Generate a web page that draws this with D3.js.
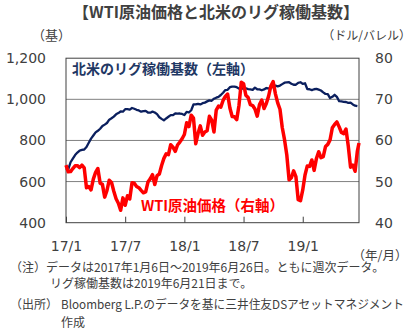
<!DOCTYPE html>
<html><head><meta charset="utf-8">
<script src="https://cdn.jsdelivr.net/npm/d3@7"></script>
<style>
body{margin:0;background:#fff;}
svg{display:block;}
text{font-family:"Noto Sans CJK JP","Noto Sans",sans-serif;}
.num{font-family:"DejaVu Sans",sans-serif;}
</style></head><body>
<svg id="c" width="412" height="330"></svg>
<script>
// ---- data ----
const startDate = "2017-01-06";           // first weekly observation (Friday)
const wtiLastDate = "2019-06-26";         // last WTI observation (Wed)
// North American rig count, weekly (left axis, rigs) 2017-01-06 .. 2019-06-21
const rigCount = [
 665,659,694,712, 729,741,751,754, 756,768,789,809,824, 839,847,857,870, 877,885,901,908,
 916,927,933,941,940, 952,952,950,958, 954,949,946,940, 943,944,936,935,940, 936,928,913,905,
 898,907,915,923, 923,931,930,931,929,
 924,939,936,947, 975,975,978,975, 981,984,990,995,993, 1003,1008,1012,1021, 1032,1045,1046,1059,
 1062,1062,1059,1052,1052, 1052,1054,1050,1048, 1046,1057,1049,1048,1044, 1048,1055,1053,1054,
 1063,1067,1063,1067, 1074,1081,1082,1083,1076, 1071,1071,1080,1083,
 1075,1078,1050,1049, 1045,1049,1051,1047, 1043,1034,1026,1025,1006, 1012,1022,1012,991,
 990,988,987,983,984, 975,969,967
];
// WTI crude oil price, weekly (right axis, USD/bbl) 2017-01-06 .. 2019-06-21, then 2019-06-26
const wtiPrice = [
 53.99,52.37,52.42,53.17, 53.83,53.86,53.40,53.99, 53.33,48.49,48.78,47.97,50.60, 52.24,53.18,49.62,49.33,
 46.22,47.84,50.33,49.80, 47.66,45.83,44.74,43.01,46.04, 44.23,46.54,45.77,49.71, 49.58,48.82,48.51,47.87,
 47.29,47.48,49.89,50.66,51.67, 49.29,51.45,51.84,53.90, 55.64,56.74,56.55,58.95, 58.36,57.36,58.90,59.60,60.42,
 61.44,64.30,63.37,66.14, 65.45,59.20,61.68,63.55, 61.25,62.04,62.34,65.88,64.94, 62.06,67.39,68.38,68.10,
 69.72,70.70,71.28,67.88, 65.81,65.74,65.06,68.58,74.15, 73.80,71.01,70.46,68.69, 68.49,67.63,65.91,68.72,69.80,
 67.75,68.99,70.78,73.25, 74.34,71.34,69.12,67.59, 63.14,60.19,56.46,50.42,50.93, 52.61,51.20,45.59,45.33,
 47.96,51.59,53.80,53.69, 55.26,52.72,55.59,57.26, 55.80,56.07,58.52,59.04,60.14, 63.08,63.89,64.50,63.30,
 61.94,61.66,62.76,58.63,53.50, 54.00,52.51,57.43, 59.38
];
const xTickDates = ["2017-01-06","2017-07-07","2018-01-05","2018-07-06","2019-01-04"];
const xTickLabels = ["17/1","17/7","18/1","18/7","19/1"];
const leftTicks = [400,600,800,1000,1200];
const rightTicks = [40,50,60,70,80];
const gridValues = [600,800,1000];

const title = "【WTI原油価格と北米のリグ稼働基数】";
const leftUnit = "（基）", rightUnit = "（ドル/バレル）", xUnit = "（年/月）";
const rigLabel = "北米のリグ稼働基数（左軸）";
const wtiLabel = "WTI原油価格（右軸）";

// ---- build ----
const parse = d3.utcParse("%Y-%m-%d");
const start = parse(startDate);
const rigDates = rigCount.map((_, i) => d3.utcDay.offset(start, 7 * i));
const wtiDates = wtiPrice.map((_, i) => i < wtiPrice.length - 1 ? d3.utcDay.offset(start, 7 * i) : parse(wtiLastDate));

const L = 66, R = 359, T = 58.2, B = 222.7;
const svg = d3.select("#c");
const x = d3.scaleUtc().domain([start, parse(wtiLastDate)]).range([L, R]);
const yL = d3.scaleLinear().domain([400, 1200]).range([B, T]);
const yR = d3.scaleLinear().domain([40, 80]).range([B, T]);

// title & units
svg.append("text").attr("x", 216).attr("y", 17.5).attr("text-anchor", "middle")
  .attr("font-size", 16).attr("font-weight", "bold").attr("fill", "#404040").text(title);
svg.append("text").attr("x", 51.5).attr("y", 40).attr("text-anchor", "middle")
  .attr("font-size", 13).attr("fill", "#404040").text(leftUnit);
svg.append("text").attr("x", 411).attr("y", 40).attr("text-anchor", "end")
  .attr("font-size", 12).attr("fill", "#404040").text(rightUnit);
svg.append("text").attr("x", 380).attr("y", 259.5).attr("text-anchor", "middle")
  .attr("font-size", 12.5).attr("fill", "#404040").text(xUnit);

// grid
svg.append("g").selectAll("line").data(gridValues).join("line")
  .attr("x1", L).attr("x2", R).attr("y1", d => yL(d)).attr("y2", d => yL(d))
  .attr("stroke", "#808080").attr("stroke-width", 1);

// axes
const gL = svg.append("g").attr("transform", `translate(${L},0)`)
  .call(d3.axisLeft(yL).tickValues(leftTicks).tickSize(0).tickPadding(20).tickFormat(d3.format(",")));
const gR = svg.append("g").attr("transform", `translate(${R},0)`)
  .call(d3.axisRight(yR).tickValues(rightTicks).tickSize(0).tickPadding(16));
const gB = svg.append("g").attr("transform", `translate(0,${B})`)
  .call(d3.axisBottom(x).tickValues(xTickDates.map(parse)).tickSize(-6).tickPadding(18)
    .tickFormat((d, i) => xTickLabels[i]));
[gL, gR, gB].forEach(g => {
  g.select(".domain").remove();
  g.selectAll("text").attr("class", "num").attr("font-size", 14).attr("fill", "#404040");
  g.selectAll("line").attr("stroke", "#404040");
});

// frame
svg.append("rect").attr("x", L).attr("y", T).attr("width", R - L).attr("height", B - T)
  .attr("fill", "none").attr("stroke", "#404040").attr("stroke-width", 1);

// lines
const rigLine = d3.line().x((d, i) => x(rigDates[i])).y(d => yL(d));
const wtiLine = d3.line().x((d, i) => x(wtiDates[i])).y(d => yR(d));
svg.append("path").datum(rigCount).attr("d", rigLine).attr("fill", "none")
  .attr("stroke", "#0B1F5E").attr("stroke-width", 2.3).attr("stroke-linejoin", "round");
svg.append("path").datum(wtiPrice).attr("d", wtiLine).attr("fill", "none")
  .attr("stroke", "#FF0000").attr("stroke-width", 3.5).attr("stroke-linejoin", "round");

// series labels
svg.append("text").attr("x", 72).attr("y", 74).attr("font-size", 14).attr("font-weight", "bold")
  .attr("fill", "#1F3864").text(rigLabel);
svg.append("text").attr("x", 141).attr("y", 211).attr("font-size", 14.5).attr("font-weight", "bold")
  .attr("fill", "#FF0000").text(wtiLabel);

// notes
const noteFont = 12;
svg.append("text").attr("x", 10).attr("y", 272).attr("font-size", noteFont).attr("fill", "#404040")
  .text("（注）データは2017年1月6日～2019年6月26日。ともに週次データ。");
svg.append("text").attr("x", 50).attr("y", 287.5).attr("font-size", noteFont).attr("fill", "#404040")
  .text("リグ稼働基数は2019年6月21日まで。");
const n3 = svg.append("text").attr("y", 308.5).attr("font-size", noteFont).attr("fill", "#404040");
n3.append("tspan").attr("x", 10).text("（出所）");
n3.append("tspan").attr("x", 61).attr("textLength", 343).attr("lengthAdjust", "spacingAndGlyphs")
  .text("Bloomberg L.P.のデータを基に三井住友DSアセットマネジメント");
svg.append("text").attr("x", 61).attr("y", 326.5).attr("font-size", noteFont).attr("fill", "#404040")
  .text("作成");
</script>
</body></html>
